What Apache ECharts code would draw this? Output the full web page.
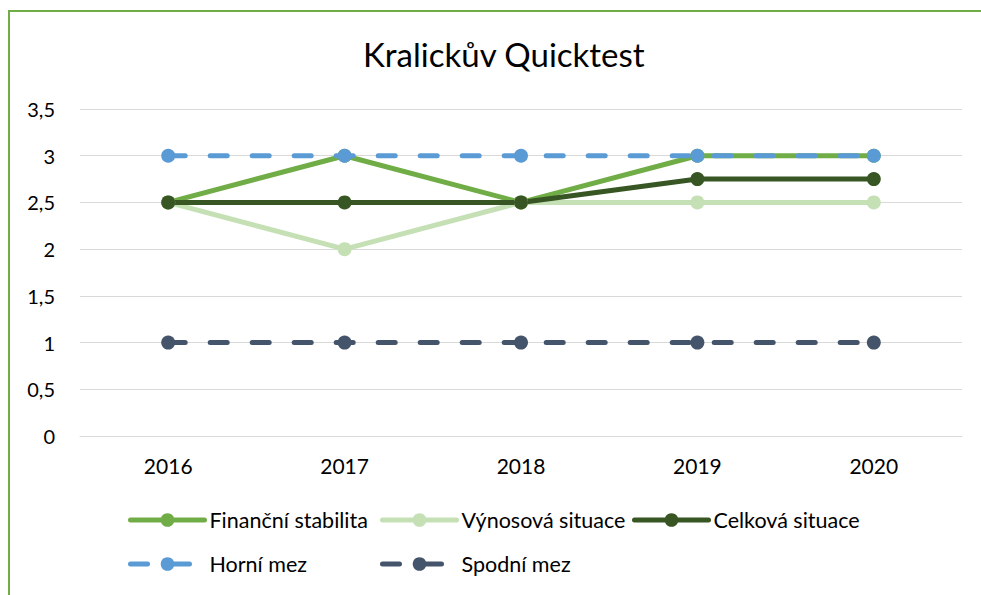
<!DOCTYPE html>
<html>
<head>
<meta charset="utf-8">
<script src="https://cdn.jsdelivr.net/npm/echarts@6/dist/echarts.min.js"></script>
<style>
  html, body { margin: 0; padding: 0; background: #fff; }
  #chart { width: 981px; height: 595px; }
</style>
</head>
<body>
<div id="chart"></div>
<script>
const years = ['2016', '2017', '2018', '2019', '2020'];
const financni = [2.5, 3, 2.5, 3, 3];
const vynosova = [2.5, 2, 2.5, 2.5, 2.5];
const celkova = [2.5, 2.5, 2.5, 2.75, 2.75];
const horni = [3, 3, 3, 3, 3];
const spodni = [1, 1, 1, 1, 1];

const font = 'Lato, "Noto Sans", sans-serif';

function solid(name, data, color){
  return {
    name: name,
    type: 'line',
    data: data,
    symbol: 'circle',
    symbolSize: 14,
    itemStyle: { color: color },
    lineStyle: { color: color, width: 5, cap: 'round' }
  };
}

function dashed(name, data, color){
  return {
    name: name,
    type: 'line',
    data: data,
    symbol: 'circle',
    symbolSize: 14,
    itemStyle: { color: color },
    lineStyle: { color: color, width: 5, type: [17, 25], cap: 'round' }
  };
}

// one legend per entry so the two rows line up in columns like the original
function legendAt(name, left, top){
  return {
    data: [name],
    left: left,
    top: top,
    itemWidth: 74,
    itemHeight: 17,
    lineStyle: { width: 5 },
    textStyle: { fontFamily: font, fontSize: 21.5, color: '#000' }
  };
}

let myChart = echarts.init(document.getElementById('chart'), null, { renderer: 'svg' });

let option = {
  animation: false,
  backgroundColor: '#fff',
  title: {
    text: 'Kralickův Quicktest',
    left: 358,
    top: 32,
    textStyle: { fontFamily: font, fontSize: 33, fontWeight: 'normal', color: '#000' }
  },
  graphic: [{
    type: 'rect',
    shape: { x: 9, y: 11, width: 1000, height: 1000 },
    style: { fill: 'none', stroke: '#70AD47', lineWidth: 2 },
    silent: true
  }],
  grid: { left: 80, right: 19, top: 109, bottom: 159 },
  legend: [
    legendAt('Finanční stabilita', 123, 504),
    legendAt('Výnosová situace', 375, 504),
    legendAt('Celková situace', 627, 504),
    legendAt('Horní mez', 123, 548),
    legendAt('Spodní mez', 375, 548)
  ],
  xAxis: {
    type: 'category',
    data: years,
    axisLine: { lineStyle: { color: '#D9D9D9', width: 1 } },
    axisTick: { show: false },
    axisLabel: { fontFamily: font, fontSize: 21, color: '#000', margin: 19 }
  },
  yAxis: {
    type: 'value',
    min: 0,
    max: 3.5,
    interval: 0.5,
    axisLine: { show: false },
    axisTick: { show: false },
    splitLine: { lineStyle: { color: '#D9D9D9', width: 1 } },
    axisLabel: {
      fontFamily: font, fontSize: 20, color: '#000', margin: 25,
      formatter: (v) => String(v).replace('.', ',')
    }
  },
  series: [
    solid('Finanční stabilita', financni, '#70AD47'),
    solid('Výnosová situace', vynosova, '#C5E0B4'),
    solid('Celková situace', celkova, '#375623'),
    dashed('Horní mez', horni, '#5B9BD5'),
    dashed('Spodní mez', spodni, '#44546A')
  ]
};

myChart.setOption(option);
</script>
</body>
</html>
